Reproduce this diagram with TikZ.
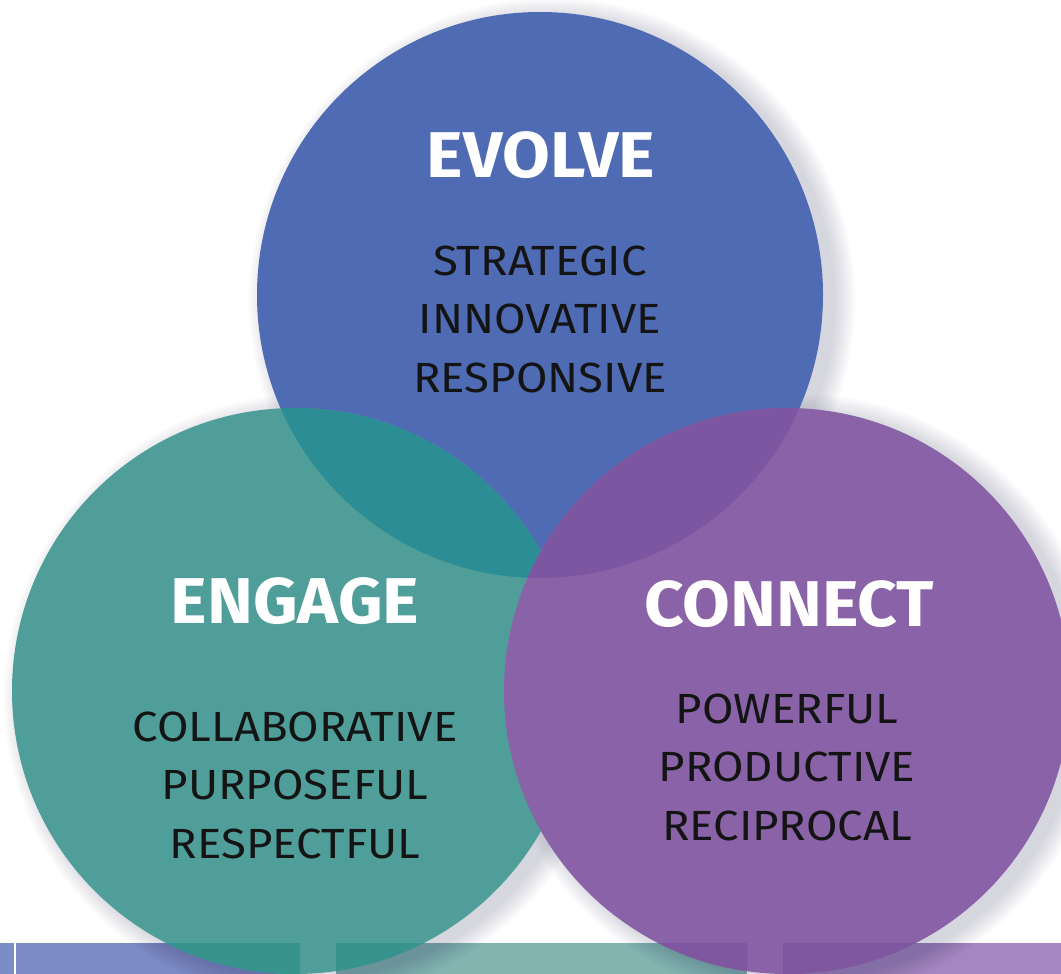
\documentclass[tikz,border=0pt]{standalone}
\usepackage{fontspec}
\setmainfont{Fira Sans}
\newfontfamily\titlefont[FakeStretch=1.07]{Fira Sans Bold}
\newfontfamily\wordfont[FakeStretch=1.08]{Fira Sans}
\definecolor{evolveblue}{HTML}{4F6BB3}
\definecolor{engageteal}{HTML}{509E9A}
\definecolor{connectpurple}{HTML}{8A62A7}
\definecolor{tealonblue}{HTML}{2C8E94}
\definecolor{purpleonblue}{HTML}{7C56A0}
\definecolor{barblue}{HTML}{7B8BC4}
\definecolor{barteal}{HTML}{82B5B0}
\definecolor{barpurple}{HTML}{A487C0}
\definecolor{tealonbar}{HTML}{38938F}
\definecolor{purpleonbar}{HTML}{7F56A0}
\begin{document}
\begin{tikzpicture}[
  x=0.025cm, y=0.025cm,
  titletext/.style={text=white, font=\titlefont\fontsize{46}{50}\selectfont, inner sep=0pt, anchor=base},
  wordlist/.style={text=black!92, font=\wordfont\fontsize{30}{41.6}\selectfont, align=center, inner sep=0pt, anchor=base},
  shadowdisc/.style={black!80!blue, opacity=0.016}
]
\useasboundingbox (0,0) rectangle (1061,-974);
\clip (0,0) rectangle (1061,-974);

% Centres
\coordinate (evolve)  at (540,-295);
\coordinate (engage)  at (295,-691);
\coordinate (connect) at (787,-691);

% Bottom bar
\fill[barblue]   (0,-943)   rectangle (14,-974);
\fill[barblue]   (16,-943)  rectangle (300,-974);
\fill[barteal]   (336,-943) rectangle (747,-974);
\fill[barpurple] (783,-943) rectangle (1061,-974);

% Soft shadows
\foreach \c in {evolve,engage,connect}
  \foreach \r in {0,2,...,20}
    \fill[shadowdisc] ([shift={(12,-6)}]\c) circle ({283+\r});

% Circles
\fill[evolveblue] (evolve) circle (283);
\fill[engageteal] (engage) circle (283);
\begin{scope}
  \clip (evolve) circle (283);
  \fill[tealonblue] (engage) circle (283);
\end{scope}
\fill[connectpurple] (connect) circle (283);
\begin{scope}
  \clip (evolve) circle (283);
  \fill[purpleonblue] (connect) circle (283);
\end{scope}

% Circles over the bar
\begin{scope}
  \clip (0,-943) rectangle (14,-974) (16,-943) rectangle (300,-974)
        (336,-943) rectangle (747,-974) (783,-943) rectangle (1061,-974);
  \fill[tealonbar] (engage) circle (283);
  \fill[purpleonbar] (connect) circle (283);
\end{scope}

% Texts
\node[titletext] (evolvetitle)  at (541,-177) {EVOLVE};
\node[wordlist]  (evolvewords)  at (540,-392) {STRATEGIC\\INNOVATIVE\\RESPONSIVE};
\node[titletext] (engagetitle)  at (295,-623) {ENGAGE};
\node[wordlist]  (engagewords)  at (295,-858) {COLLABORATIVE\\PURPOSEFUL\\RESPECTFUL};
\node[titletext] (connecttitle) at (789,-626) {CONNECT};
\node[wordlist]  (connectwords) at (787,-840) {POWERFUL\\PRODUCTIVE\\RECIPROCAL};
\end{tikzpicture}
\end{document}
